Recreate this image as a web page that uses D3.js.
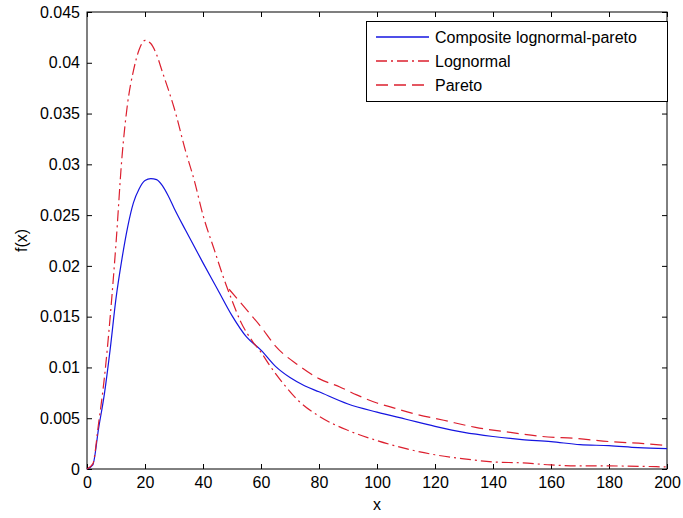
<!DOCTYPE html>
<html>
<head>
<meta charset="utf-8">
<script src="https://cdn.jsdelivr.net/npm/d3@7"></script>
<style>
  body { margin: 0; background: #fff; }
  text { font-family: "Liberation Sans", Arial, sans-serif; font-size: 16px; fill: #000; }
</style>
</head>
<body>
<div id="chart-area"></div>
<script>
// values
const compositeX = [0, 2, 4, 6, 8, 10, 12, 14, 16, 18, 20, 22, 24, 26, 28, 30, 34, 40, 45, 50, 55, 60, 65, 70, 75, 80, 90, 100, 110, 120, 130, 140, 150, 160, 170, 180, 190, 200];
const compositeY = [0, 0.0004, 0.0040, 0.0074, 0.0118, 0.0168, 0.0206, 0.0238, 0.0262, 0.0276, 0.0284, 0.0286, 0.0285, 0.0279, 0.0269, 0.0257, 0.0235, 0.0203, 0.0177, 0.0151, 0.0130, 0.0117, 0.0101, 0.0090, 0.0082, 0.0076, 0.0064, 0.0056, 0.0049, 0.0042, 0.0036, 0.0032, 0.0029, 0.0027, 0.0024, 0.0023, 0.0021, 0.0020];

const lognormalX = [0, 2, 4, 6, 8, 10, 12, 14, 16, 18, 20, 22, 24, 26, 28, 30, 34, 37, 40, 44, 47, 50, 53, 57, 60, 63, 68, 73, 80, 90, 100, 110, 120, 130, 140, 150, 160, 170, 180, 200];
const lognormalY = [0, 0.0005, 0.0045, 0.0090, 0.0150, 0.0222, 0.0305, 0.0360, 0.0392, 0.0413, 0.0422, 0.0419, 0.0408, 0.0391, 0.0374, 0.0356, 0.0313, 0.0284, 0.0250, 0.0215, 0.0189, 0.0166, 0.0145, 0.0126, 0.0115, 0.0102, 0.0083, 0.0067, 0.0052, 0.0038, 0.0028, 0.0020, 0.0014, 0.0010, 0.0007, 0.0006, 0.0004, 0.0003, 0.0003, 0.0002];

const paretoX = [49, 55, 60, 65, 73, 80, 87, 93, 100, 106, 112, 123, 134, 146, 157, 169, 180, 192, 200];
const paretoY = [0.0177, 0.0157, 0.0140, 0.0121, 0.0102, 0.0089, 0.0081, 0.0073, 0.0065, 0.0060, 0.0055, 0.0048, 0.0041, 0.0036, 0.0032, 0.0030, 0.0027, 0.0025, 0.0023];

const seriesNames = ["Composite lognormal-pareto", "Lognormal", "Pareto"];
const xTicks = [0, 20, 40, 60, 80, 100, 120, 140, 160, 180, 200];
const yTicks = [0, 0.005, 0.01, 0.015, 0.02, 0.025, 0.03, 0.035, 0.04, 0.045];
const yTickLabels = ["0", "0.005", "0.01", "0.015", "0.02", "0.025", "0.03", "0.035", "0.04", "0.045"];

const W = 683, H = 518;
const margin = { top: 12, right: 16, bottom: 49, left: 87 };
const width = W - margin.left - margin.right;
const height = H - margin.top - margin.bottom;

const svg = d3.select('#chart-area')
    .append('svg')
    .attr('width', W)
    .attr('height', H);

const g = svg.append('g')
    .attr('transform', `translate(${margin.left}, ${margin.top})`);

const x = d3.scaleLinear().domain([0, 200]).range([0, width]);
const y = d3.scaleLinear().domain([0, 0.045]).range([height, 0]);

// axes, ticks pointing inward
g.append('g')
    .attr('transform', `translate(0, ${height})`)
    .call(d3.axisBottom(x).tickValues(xTicks).tickSizeInner(-5).tickSizeOuter(0).tickPadding(8));
g.append('g')
    .call(d3.axisTop(x).tickValues(xTicks).tickSizeInner(-5).tickSizeOuter(0).tickFormat(''));
g.append('g')
    .call(d3.axisLeft(y).tickValues(yTicks).tickSizeInner(-5).tickSizeOuter(0).tickPadding(7)
        .tickFormat((d, i) => yTickLabels[i]));
g.append('g')
    .attr('transform', `translate(${width}, 0)`)
    .call(d3.axisRight(y).tickValues(yTicks).tickSizeInner(-5).tickSizeOuter(0).tickFormat(''));

g.selectAll('.domain').remove();
g.selectAll('.tick line').attr('stroke', '#000');
g.selectAll('.tick text').style('font-size', '16px').attr('fill', '#000');

g.append('rect')
    .attr('width', width)
    .attr('height', height)
    .attr('fill', 'none')
    .attr('stroke', '#000')
    .attr('stroke-width', 1);

const line = d3.line()
    .x(d => x(d[0]))
    .y(d => y(d[1]))
    .curve(d3.curveMonotoneX);

const series = [
    { name: seriesNames[0], pts: d3.zip(compositeX, compositeY), color: '#1515e0', dash: null },
    { name: seriesNames[1], pts: d3.zip(lognormalX, lognormalY), color: '#dc1f2e', dash: '11,4,2,4' },
    { name: seriesNames[2], pts: d3.zip(paretoX, paretoY), color: '#dc1f2e', dash: '12,6' }
];

g.selectAll('path.curve')
    .data(series)
    .enter()
    .append('path')
    .attr('class', 'curve')
    .attr('d', d => line(d.pts))
    .attr('fill', 'none')
    .attr('stroke', d => d.color)
    .attr('stroke-width', 1.2)
    .attr('stroke-dasharray', d => d.dash);

// legend
const legend = svg.append('g').attr('transform', 'translate(366, 21)');
legend.append('rect')
    .attr('x', 0.5).attr('y', 0.5)
    .attr('width', 301)
    .attr('height', 80)
    .attr('fill', '#fff')
    .attr('stroke', '#000');

const items = legend.selectAll('g.item')
    .data(series)
    .enter()
    .append('g')
    .attr('class', 'item')
    .attr('transform', (d, i) => `translate(0, ${16 + i * 24})`);

items.append('line')
    .attr('x1', 10).attr('x2', 63)
    .attr('stroke', d => d.color)
    .attr('stroke-width', 1.4)
    .attr('stroke-dasharray', d => d.dash);

items.append('text')
    .attr('x', 69)
    .attr('dy', '0.35em')
    .text(d => d.name);

// axis labels
svg.append('text')
    .attr('x', margin.left + width / 2)
    .attr('y', 510)
    .attr('text-anchor', 'middle')
    .text('x');

svg.append('text')
    .attr('transform', `translate(27, ${margin.top + height / 2}) rotate(-90)`)
    .attr('text-anchor', 'middle')
    .text('f(x)');
</script>
</body>
</html>
